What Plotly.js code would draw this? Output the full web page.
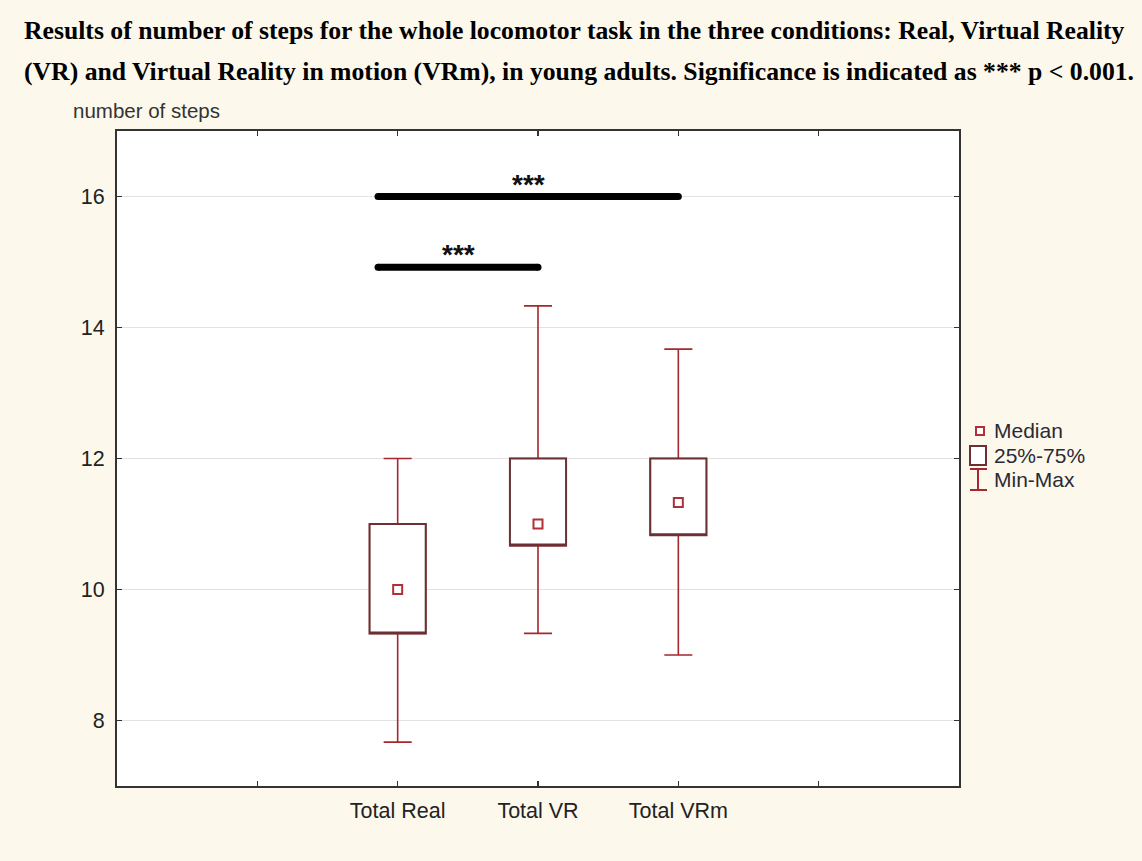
<!DOCTYPE html>
<html>
<head>
<meta charset="utf-8">
<script src="https://cdn.plot.ly/plotly-3.0.1.min.js"></script>
<style>html,body{margin:0;padding:0;background:#FDF8EC;}</style>
</head>
<body>
<div id="chart" style="width:1142px;height:861px;"></div>
<script>
// ---- data ----
var categories = ['Total Real', 'Total VR', 'Total VRm'];
var catPos = [2, 3, 4];
var minVals = [7.67, 9.33, 9.0];
var q1Vals = [9.33, 10.67, 10.83];
var medianVals = [10.0, 11.0, 11.33];
var q3Vals = [11.0, 12.0, 12.0];
var maxVals = [12.0, 14.33, 13.67];

var tickPos = [1, 2, 3, 4, 5];
var tickText = ['', 'Total Real', 'Total VR', 'Total VRm', ''];
var yTicks = [8, 10, 12, 14, 16];

// significance bars
var sigX0 = [1.86, 1.86];
var sigX1 = [4.0, 3.0];
var sigY = [16.0, 14.92];
var sigLabel = ['***', '***'];

var titleLines = [
  'Results of number of steps for the whole locomotor task in the three conditions: Real, Virtual Reality',
  '(VR) and Virtual Reality in motion (VRm), in young adults. Significance is indicated as *** p < 0.001.'
];
var yTitle = 'number of steps';
var legendLabels = ['Median', '25%-75%', 'Min-Max'];

// ---- layout geometry ----
var W = 1142, H = 861;
var M = {l: 117, r: 183, t: 131, b: 75};
var PW = W - M.l - M.r, PH = H - M.t - M.b;
function px(x) { return (x - M.l) / PW; }
function py(y) { return (H - M.b - y) / PH; }

var whiskerColor = '#A4282E';
var boxColor = '#6A3033';
var medColor = '#B0303A';
var sansFont = 'Liberation Sans, Arial, sans-serif';

var traces = [];
// whiskers (and red box underneath)
traces.push({
  type: 'box', x: catPos, q1: q1Vals, median: medianVals, q3: q3Vals,
  lowerfence: minVals, upperfence: maxVals,
  width: 0.4, whiskerwidth: 0.5, boxpoints: false,
  line: {color: whiskerColor, width: 1.6}, fillcolor: '#ffffff',
  hoverinfo: 'skip', showlegend: false
});
// box outline (darker) covering median line
traces.push({
  type: 'box', x: catPos, q1: q1Vals, median: q1Vals, q3: q3Vals,
  lowerfence: q1Vals, upperfence: q3Vals,
  width: 0.4, whiskerwidth: 0, boxpoints: false,
  line: {color: boxColor, width: 2}, fillcolor: '#ffffff',
  hoverinfo: 'skip', showlegend: false
});
// median markers
traces.push({
  type: 'scatter', mode: 'markers', x: catPos, y: medianVals,
  marker: {symbol: 'square', size: 9, color: '#ffffff', line: {color: medColor, width: 2}},
  hoverinfo: 'skip', showlegend: false
});
// significance bars
for (var i = 0; i < sigY.length; i++) {
  traces.push({
    type: 'scatter', mode: 'lines+markers', x: [sigX0[i], sigX1[i]], y: [sigY[i], sigY[i]],
    line: {color: '#000000', width: 7}, marker: {color: '#000000', size: 7},
    hoverinfo: 'skip', showlegend: false
  });
}

var annotations = [];
for (var i = 0; i < sigY.length; i++) {
  annotations.push({
    xref: 'x', yref: 'y', x: (sigX0[i] + sigX1[i]) / 2, y: sigY[i],
    text: '<b>' + sigLabel[i] + '</b>', showarrow: false, yanchor: 'bottom', yshift: -5,
    font: {family: sansFont, size: 28, color: '#111'}
  });
}
// title lines
var titleFont = {family: 'Liberation Serif, Times New Roman, serif', size: 25.7, color: '#000'};
annotations.push({xref: 'paper', yref: 'paper', x: px(22), y: py(31), xanchor: 'left', yanchor: 'middle',
  text: '<b>' + titleLines[0] + '</b>', showarrow: false, font: titleFont});
annotations.push({xref: 'paper', yref: 'paper', x: px(22), y: py(71), xanchor: 'left', yanchor: 'middle',
  text: '<b>' + titleLines[1].replace('<', '&lt;') + '</b>', showarrow: false, font: titleFont});
// y title
annotations.push({xref: 'paper', yref: 'paper', x: px(71), y: py(110), xanchor: 'left', yanchor: 'middle',
  text: yTitle, showarrow: false, font: {family: sansFont, size: 20.5, color: '#333'}});
// legend labels
var legY = [430, 455, 480];
for (var i = 0; i < legendLabels.length; i++) {
  annotations.push({xref: 'paper', yref: 'paper', x: px(992), y: py(legY[i]), xanchor: 'left', yanchor: 'middle',
    text: legendLabels[i], showarrow: false, font: {family: sansFont, size: 21, color: '#2a2a35'}});
}

var shapes = [
  // median icon
  {type: 'rect', xref: 'paper', yref: 'paper', x0: px(976), x1: px(984), y0: py(435), y1: py(427),
   line: {color: medColor, width: 2}, fillcolor: '#ffffff'},
  // box icon
  {type: 'rect', xref: 'paper', yref: 'paper', x0: px(970), x1: px(986), y0: py(465), y1: py(446),
   line: {color: boxColor, width: 2}, fillcolor: '#ffffff'},
  // whisker icon
  {type: 'line', xref: 'paper', yref: 'paper', x0: px(978), x1: px(978), y0: py(469), y1: py(490),
   line: {color: whiskerColor, width: 2}},
  {type: 'line', xref: 'paper', yref: 'paper', x0: px(970), x1: px(987), y0: py(469), y1: py(469),
   line: {color: whiskerColor, width: 2}},
  {type: 'line', xref: 'paper', yref: 'paper', x0: px(970), x1: px(987), y0: py(490), y1: py(490),
   line: {color: whiskerColor, width: 2}}
];

var layout = {
  width: W, height: H, margin: M,
  paper_bgcolor: '#FDF8EC', plot_bgcolor: '#ffffff',
  boxmode: 'overlay', showlegend: false,
  xaxis: {
    range: [0, 6], tickmode: 'array', tickvals: tickPos, ticktext: tickText,
    ticks: 'inside', ticklen: 5, tickwidth: 1.5, tickcolor: '#333',
    showline: true, mirror: 'ticks', linecolor: '#333', linewidth: 2,
    showgrid: false, zeroline: false, ticklabelstandoff: 4,
    tickfont: {family: sansFont, size: 21.5, color: '#222'}
  },
  yaxis: {
    range: [7, 17], tickmode: 'array', tickvals: yTicks,
    ticks: 'inside', ticklen: 5, tickwidth: 1.5, tickcolor: '#333',
    showline: true, mirror: 'ticks', linecolor: '#333', linewidth: 2,
    showgrid: true, gridcolor: '#e2e2e2', gridwidth: 1.5, zeroline: false,
    ticklabelstandoff: 6,
    tickfont: {family: sansFont, size: 21.5, color: '#222'}
  },
  annotations: annotations, shapes: shapes
};

Plotly.newPlot('chart', traces, layout, {staticPlot: true, displayModeBar: false});
</script>
</body>
</html>
